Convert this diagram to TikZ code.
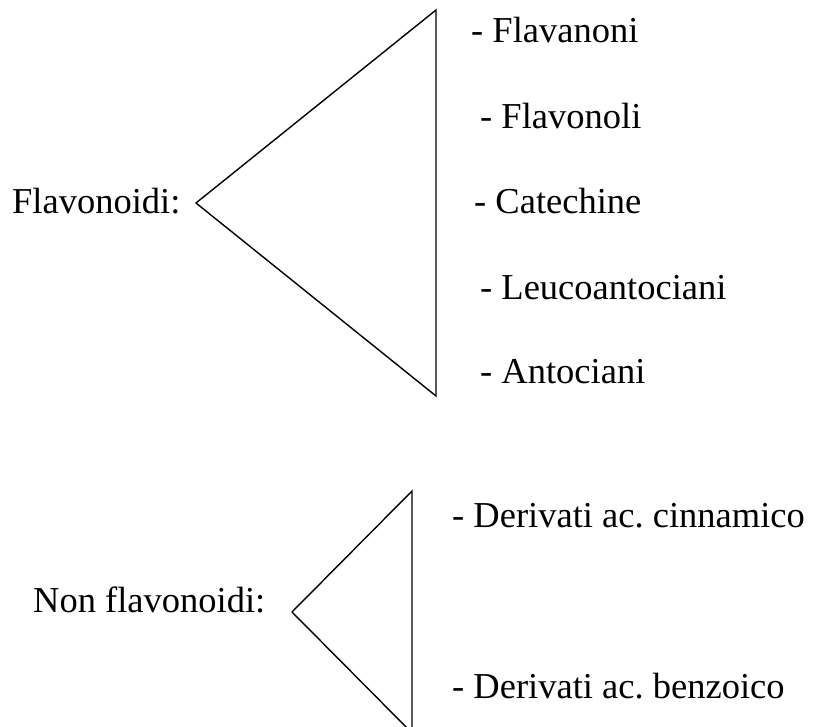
\documentclass[tikz,border=0pt]{standalone}
\usepackage{fontspec}
\setmainfont{Liberation Serif}
\frenchspacing
\begin{document}
\begin{tikzpicture}[x=1pt,y=-1pt,
  label/.style={anchor=base west,inner sep=0pt,font=\fontsize{36.5}{44}\selectfont},
  wedge/.style={draw=black,line width=1.4pt,line join=miter}]
\useasboundingbox (0,0) rectangle (813,727);
\clip (0,0) rectangle (813,727);

% group headings
\node[label] (flav) at (12,214) {Flavonoidi:};
\node[label] (nonflav) at (33,612) {Non flavonoidi:};

% flavonoid classes
\node[label] (f1) at (471,43) {- Flavanoni};
\node[label] (f2) at (480,129) {- Flavonoli};
\node[label] (f3) at (474,214) {- Catechine};
\node[label] (f4) at (480,299) {- Leucoantociani};
\node[label] (f5) at (480,383) {- Antociani};

% non-flavonoid classes
\node[label] (n1) at (452,527) {- Derivati ac. cinnamico};
\node[label] (n2) at (452,698) {- Derivati ac. benzoico};

% bracket wedges
\coordinate (fa) at (196,203);
\coordinate (ft) at (436,10);
\coordinate (fb) at (436,396);
\draw[wedge] (ft) -- (fa) -- (fb) -- cycle;

\coordinate (na) at (292,612);
\coordinate (nt) at (412,491);
\coordinate (nb) at (412,733);
\draw[wedge] (nt) -- (na) -- (nb) -- cycle;
\end{tikzpicture}
\end{document}
